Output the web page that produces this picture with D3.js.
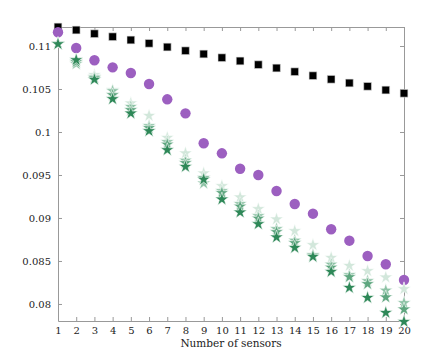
<!DOCTYPE html>
<html>
<head>
<meta charset="utf-8">
<script src="https://cdn.jsdelivr.net/npm/d3@7/dist/d3.min.js"></script>
<style>
  body { margin: 0; background: #fff; }
  text { font-family: "DejaVu Serif", "Liberation Serif", serif; }
</style>
</head>
<body>
<div id="chart"></div>
<script>
// number of sensors
var sensors = d3.range(1, 21);

var yTicks = [0.08, 0.085, 0.09, 0.095, 0.1, 0.105, 0.11];

// black squares
var squares = [0.11221, 0.11186, 0.11143, 0.11108, 0.1107, 0.11031, 0.10988, 0.10945, 0.10907, 0.10864,
               0.10826, 0.10783, 0.10744, 0.10701, 0.10655, 0.10613, 0.1057, 0.10531, 0.10488, 0.1045];

// purple circles
var circles = [0.1116, 0.10977, 0.10834, 0.10752, 0.10686, 0.10558, 0.1038, 0.10217, 0.09869, 0.09752,
               0.09573, 0.095, 0.09314, 0.09163, 0.0905, 0.08869, 0.08736, 0.08558, 0.08462, 0.08279];

// green stars, lightest to darkest
var stars1 = [0.11023, 0.10802, 0.10663, 0.10488, 0.10334, 0.1019, 0.09934, 0.09753, 0.0952, 0.09372,
              0.09241, 0.09105, 0.08985, 0.08849, 0.08686, 0.08538, 0.08445, 0.08384, 0.0831, 0.08174];
var stars2 = [0.11023, 0.10791, 0.1064, 0.10477, 0.10294, 0.1007, 0.09884, 0.09669, 0.09403, 0.09314,
              0.09163, 0.09023, 0.08872, 0.08738, 0.0857, 0.08459, 0.08337, 0.08267, 0.08157, 0.08012];
var stars3 = [0.11023, 0.10814, 0.10628, 0.1043, 0.10256, 0.10047, 0.09855, 0.0964, 0.09465, 0.09291,
              0.09134, 0.08994, 0.08837, 0.08709, 0.08564, 0.08424, 0.08314, 0.08233, 0.08078, 0.07938];
var stars4 = [0.11023, 0.10837, 0.1061, 0.10384, 0.10217, 0.10012, 0.09791, 0.09597, 0.09448, 0.09217,
              0.09066, 0.0893, 0.08776, 0.08655, 0.0855, 0.08376, 0.0819, 0.08073, 0.07899, 0.07794];

var W = 447, H = 361;
var margin = {top: 27, right: 43, bottom: 40, left: 58};
var w = W - margin.left - margin.right;
var h = H - margin.top - margin.bottom;

var svg = d3.select("#chart").append("svg").attr("width", W).attr("height", H);
var g = svg.append("g").attr("transform", "translate(" + margin.left + "," + margin.top + ")");

var x = d3.scaleLinear().domain([1, 20]).range([0, w]);
var y = d3.scaleLinear().domain([0.07802, 0.11221]).range([h, 0]);

var axisColor = "#999";

function styleAxis(sel) {
  sel.selectAll("path").attr("stroke", axisColor);
  sel.selectAll("line").attr("stroke", axisColor);
  sel.selectAll("text").attr("fill", "#222").style("font-size", "10px");
}

g.append("g").attr("transform", "translate(0," + h + ")")
  .call(d3.axisBottom(x).tickValues(sensors).tickSizeInner(-4).tickSizeOuter(0).tickPadding(6).tickFormat(d3.format("d")))
  .call(styleAxis);
g.append("g")
  .call(d3.axisTop(x).tickValues(sensors).tickSizeInner(-4).tickSizeOuter(0).tickFormat(""))
  .call(styleAxis);
g.append("g")
  .call(d3.axisLeft(y).tickValues(yTicks).tickSizeInner(-4).tickSizeOuter(0).tickPadding(7).tickFormat(function(d) { return String(+d.toFixed(3)); }))
  .call(styleAxis);
g.append("g").attr("transform", "translate(" + w + ",0)")
  .call(d3.axisRight(y).tickValues(yTicks).tickSizeInner(-4).tickSizeOuter(0).tickFormat(""))
  .call(styleAxis);

g.append("text")
  .attr("x", w/2).attr("y", h + 26)
  .attr("text-anchor", "middle")
  .attr("fill", "#222")
  .style("font-size", "10.5px")
  .text("Number of sensors");

function drawSeries(values, shape, size, color, stroke) {
  g.append("g").selectAll("path").data(values).enter().append("path")
    .attr("transform", function(d, i) { return "translate(" + x(sensors[i]) + "," + y(d) + ")"; })
    .attr("d", d3.symbol().type(shape).size(size))
    .attr("fill", color)
    .attr("stroke", stroke)
    .attr("stroke-width", 0.6);
}

drawSeries(squares, d3.symbolSquare, 60, "#000", "#ddd");
drawSeries(circles, d3.symbolCircle, 85, "#9c5fc0", "none");
drawSeries(stars1, d3.symbolStar, 58, "#d2e7db", "#fff");
drawSeries(stars2, d3.symbolStar, 58, "#8ec3a6", "#fff");
drawSeries(stars3, d3.symbolStar, 58, "#5ea67f", "#fff");
drawSeries(stars4, d3.symbolStar, 58, "#2e8858", "#fff");
</script>
</body>
</html>
